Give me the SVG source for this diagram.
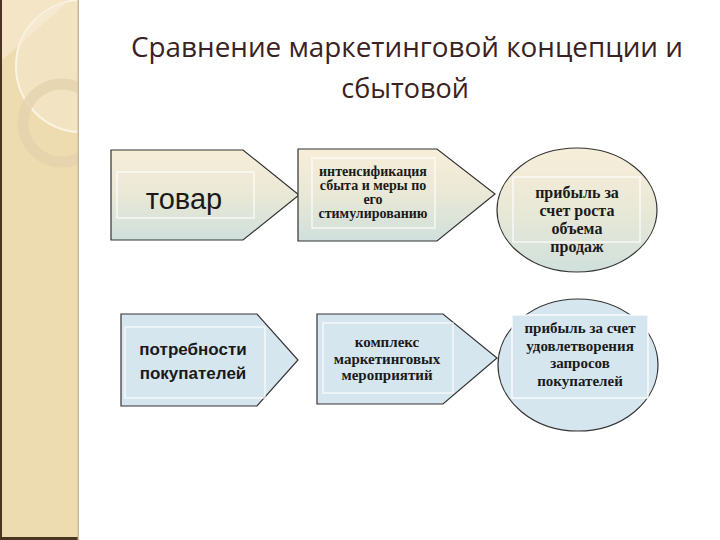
<svg xmlns="http://www.w3.org/2000/svg" width="720" height="540" viewBox="0 0 720 540">
<defs>
<linearGradient id="gTop" x1="0" y1="0" x2="0" y2="1">
<stop offset="0" stop-color="#f7eed9"/>
<stop offset="0.5" stop-color="#e9e8d6"/>
<stop offset="1" stop-color="#d0e0dc"/>
</linearGradient>
<clipPath id="sideClip"><rect x="0" y="0" width="78" height="540"/></clipPath>
<style>
.shape{stroke:#333;stroke-width:1.2}
.top{fill:url(#gTop)}
.bot{fill:#d6e6ef}
.inner{fill:none;stroke:#ffffff;stroke-opacity:0.75;stroke-width:1.5}
.ser{font-family:"Liberation Serif","Times New Roman",serif;font-weight:bold;fill:#1a1a1a;text-anchor:middle}
.sans{font-family:"Liberation Sans",Arial,sans-serif;fill:#1a1a1a;text-anchor:middle}
.title{font-family:"Open Sans","Noto Sans",sans-serif;fill:#3a2222;text-anchor:middle;font-size:27px}
</style>
</defs>
<rect width="720" height="540" fill="#ffffff"/>
<g id="sidebar">
<rect x="0" y="0" width="79" height="540" fill="#eedcb1"/>
<g clip-path="url(#sideClip)">
<circle cx="82" cy="66" r="66" fill="#f4e7c9" fill-opacity="0.7" stroke="#fbf4e2" stroke-width="2"/>
<path d="M0 0 L70 0 L0 62 Z" fill="#f7eedb" fill-opacity="0.5"/>
<circle cx="62" cy="123" r="39" fill="none" stroke="#e2d2ac" stroke-opacity="0.8" stroke-width="11"/>
</g>
<rect x="0" y="0" width="2" height="540" fill="#4a3520"/>
<rect x="0" y="537" width="79" height="3" fill="#4a3520"/>
<rect x="77.5" y="0" width="1.5" height="540" fill="#c9b89a"/>
</g>
<g id="title">
<text class="title" x="407" y="57" textLength="552" lengthAdjust="spacingAndGlyphs">Сравнение маркетинговой концепции и</text>
<text class="title" x="405" y="98">сбытовой</text>
</g>
<g id="connectors"></g>
<g id="node-tovar">
<polygon class="shape top" points="111,150 243,150 299,195 243,240 111,240"/>
<rect class="inner" x="117" y="172" width="137" height="46"/>
<text class="sans" x="184" y="209" font-size="29">товар</text>
</g>
<g id="node-intens">
<polygon class="shape top" points="298,149 437,149 495,194 437,241 298,241"/>
<rect class="inner" x="312" y="158" width="123" height="70"/>
<text class="ser" x="373" y="176" font-size="14">интенсификация</text>
<text class="ser" x="373" y="190" font-size="14">сбыта и меры по</text>
<text class="ser" x="373" y="204" font-size="14">его</text>
<text class="ser" x="373" y="218" font-size="14">стимулированию</text>
</g>
<g id="node-profit1">
<ellipse class="shape top" cx="577" cy="210" rx="80" ry="62"/>
<rect class="inner" x="513" y="177" width="127" height="65"/>
<text class="ser" x="577" y="198" font-size="16">прибыль за</text>
<text class="ser" x="577" y="216" font-size="16">счет роста</text>
<text class="ser" x="577" y="234" font-size="16">объема</text>
<text class="ser" x="577" y="252" font-size="16">продаж</text>
</g>
<g id="node-needs">
<polygon class="shape bot" points="121,314 257,314 298,360 257,406 121,406"/>
<rect class="inner" x="125" y="327" width="140" height="71"/>
<text class="sans" x="193" y="355" font-size="17" font-weight="bold">потребности</text>
<text class="sans" x="193" y="379" font-size="17" font-weight="bold">покупателей</text>
</g>
<g id="node-complex">
<polygon class="shape bot" points="317,314 443,314 497,358 443,404 317,404"/>
<rect class="inner" x="323" y="323" width="130" height="70"/>
<text class="ser" x="387" y="347" font-size="15">комплекс</text>
<text class="ser" x="387" y="364" font-size="15">маркетинговых</text>
<text class="ser" x="387" y="380" font-size="15">мероприятий</text>
</g>
<g id="node-profit2">
<ellipse class="shape bot" cx="578" cy="365" rx="80" ry="66"/>
<rect x="512" y="315" width="136" height="83" fill="#d6e6ef" stroke="#ffffff" stroke-opacity="0.8" stroke-width="1.5"/>
<text class="ser" x="580" y="333" font-size="15">прибыль за счет</text>
<text class="ser" x="580" y="351" font-size="15">удовлетворения</text>
<text class="ser" x="580" y="368" font-size="15">запросов</text>
<text class="ser" x="580" y="386" font-size="15">покупателей</text>
</g>
</svg>
